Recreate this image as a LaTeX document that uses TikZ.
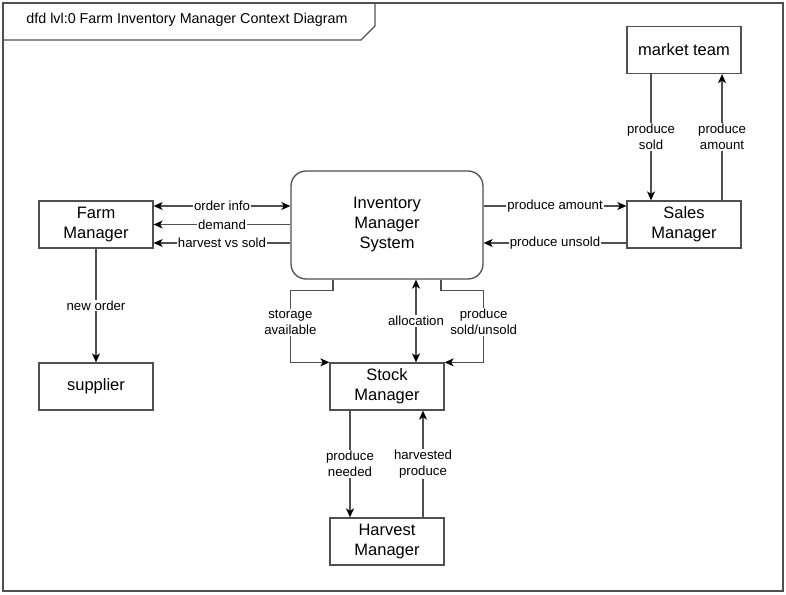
\documentclass[tikz,border=0pt]{standalone}
\usepackage{fontspec}
\setmainfont{Liberation Sans}
\usetikzlibrary{arrows.meta}

\definecolor{linegray}{RGB}{80,80,80}

\tikzset{
  flowtip/.tip={Stealth[length=9pt,width=8pt,inset=2.5pt,color=black]},
  entity/.style={draw=linegray, line width=1.3pt, minimum width=114pt, minimum height=47pt,
    align=center, inner sep=0pt, font=\fontsize{16.5}{20}\selectfont},
  process/.style={entity, rounded corners=15pt, minimum width=192pt, minimum height=108pt},
  flow/.style={draw=linegray, line width=1.2pt, -flowtip},
  flowboth/.style={draw=linegray, line width=1.2pt, flowtip-flowtip},
  lbl/.style={fill=white, inner sep=1pt, align=center, font=\fontsize{13.2}{16}\selectfont},
}

\begin{document}
\begin{tikzpicture}[x=1pt, y=-1pt]
            \useasboundingbox (0,0) rectangle (786,594);
            % frame and title tab
            \draw[linegray, line width=1.3pt] (3,3) rectangle (783,591);
            \draw[linegray, line width=1.3pt] (3,40) -- (361,40) -- (375,26) -- (375,3);
            \node[font=\fontsize{14.3}{17}\selectfont] (title) at (187,20) {dfd lvl:0 Farm Inventory Manager Context Diagram};
            % entities
            \node[process] (ims) at (387,225) {Inventory\\Manager\\System};
            \node[entity] (farm) at (96,224.5) {Farm\\Manager};
            \node[entity] (supplier) at (96,386.5) {supplier};
            \node[entity] (market) at (684,50) {market team};
            \node[entity] (sales) at (684,224.5) {Sales\\Manager};
            \node[entity] (stock) at (387,386.5) {Stock\\Manager};
            \node[entity] (harvest) at (387,541.5) {Harvest\\Manager};
            % farm manager flows
            \draw[flowboth] ([yshift=18.5pt]farm.east) -- node[lbl] {order info} ([yshift=18.5pt]farm.east -| ims.west);
            \draw[flow] (ims.west |- farm.east) -- node[lbl] {demand} (farm.east);
            \draw[flow] ([yshift=-18.5pt]farm.east -| ims.west) -- node[lbl] {harvest vs sold} ([yshift=-18.5pt]farm.east);
            \draw[flow] (farm.south) -- node[lbl] {new order} (supplier.north);
            % sales manager flows
            \draw[flow] ([yshift=18.5pt]sales.west -| ims.east) -- node[lbl] {produce amount} ([yshift=18.5pt]sales.west);
            \draw[flow] ([yshift=-18.5pt]sales.west) -- node[lbl] {produce unsold} ([yshift=-18.5pt]sales.west -| ims.east);
            \draw[flow] ([xshift=-33pt]market.south) -- node[lbl] {produce\\sold} ([xshift=-33pt]sales.north);
            \draw[flow] ([xshift=38pt]sales.north) -- node[lbl] {produce\\amount} ([xshift=38pt]market.south);
            % stock manager flows
            \draw[flow] ([xshift=-54pt]ims.south) -- ++(0,11) -| node[lbl, pos=0.72] {storage\\available} ([xshift=-39pt]stock.north west) -- (stock.north west);
            \draw[flow] ([xshift=54pt]ims.south) -- ++(0,11) -| node[lbl, pos=0.72] {produce\\sold/unsold} ([xshift=39pt]stock.north east) -- (stock.north east);
            \draw[flowboth] ([xshift=29pt]ims.south) -- node[lbl] {allocation} ([xshift=29pt]stock.north);
            \draw[flow] ([xshift=-37pt]stock.south) -- node[lbl] {produce\\needed} ([xshift=-37pt]harvest.north);
            \draw[flow] ([xshift=36pt]harvest.north) -- node[lbl] {harvested\\produce} ([xshift=36pt]stock.south);
          \end{tikzpicture}
\end{document}
